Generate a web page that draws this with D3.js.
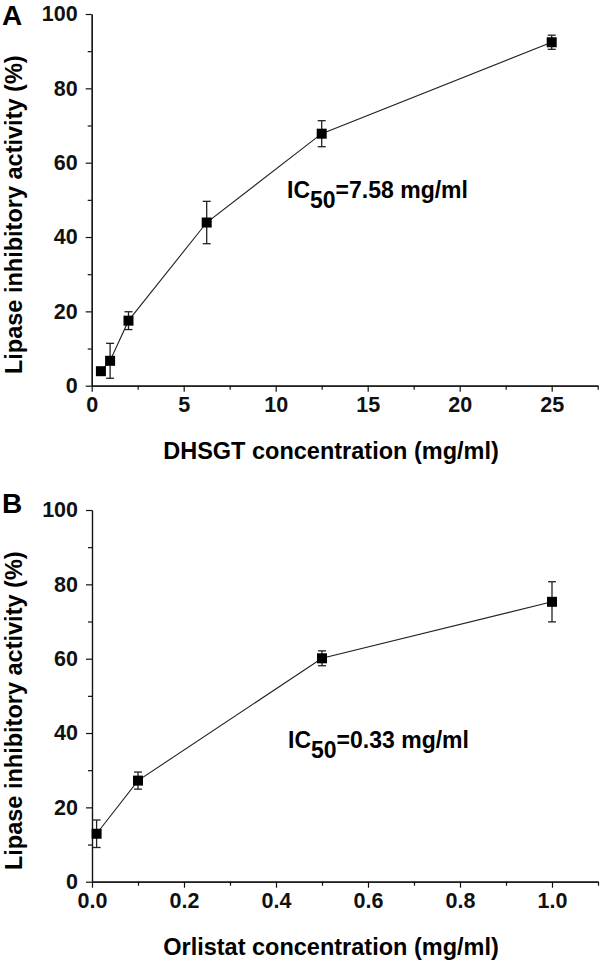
<!DOCTYPE html>
<html>
<head>
<meta charset="utf-8">
<script src="https://cdn.jsdelivr.net/npm/d3@7"></script>
<style>
  body { margin: 0; background: #fff; }
  svg { display: block; font-family: "Liberation Sans", Arial, sans-serif; }
  .axis path, .axis line { stroke: #111; stroke-width: 1.2px; }
  .axis text { font-size: 21.5px; font-weight: bold; fill: #111; font-family: "Liberation Sans", Arial, sans-serif; }
</style>
</head>
<body>
<div id="chart"></div>
<script>
// Panel A: DHSGT
var concA = [0.5, 1, 2, 6.25, 12.5, 25];
var inhibA = [3.9, 6.7, 17.5, 43.9, 67.8, 92.4];
var errA = [0.8, 4.7, 2.4, 5.7, 3.5, 1.9];
var xTicksA = [0, 5, 10, 15, 20, 25];
var xMinorA = [2.5, 7.5, 12.5, 17.5, 22.5, 27.5];

// Panel B: Orlistat
var concB = [0.01, 0.1, 0.5, 1.0];
var inhibB = [12.9, 27.2, 60.1, 75.3];
var errB = [3.7, 2.3, 2.0, 5.4];
var xTicksB = [0, 0.2, 0.4, 0.6, 0.8, 1.0];
var xMinorB = [0.1, 0.3, 0.5, 0.7, 0.9, 1.1];

// shared y ticks
var yTicks = [0, 20, 40, 60, 80, 100];
var yMinor = [10, 30, 50, 70, 90];

var svgWidth = 600;
var svgHeight = 962;

var svg = d3.select("#chart")
  .append("svg")
  .attr("width", svgWidth)
  .attr("height", svgHeight);

function drawPanel(p) {
  var x = d3.scaleLinear().domain(p.xDomain).range([p.left, p.right]);
  var y = d3.scaleLinear().domain([0, 100]).range([p.bottom, p.top]);

  var g = svg.append("g");

  // minor ticks first, then major axis on top
  g.append("g")
    .attr("class", "axis")
    .attr("transform", `translate(0, ${p.bottom})`)
    .call(d3.axisBottom(x).tickValues(p.xMinor).tickSize(4).tickFormat("").tickSizeOuter(0));

  g.append("g")
    .attr("class", "axis")
    .attr("transform", `translate(0, ${p.bottom})`)
    .call(d3.axisBottom(x).tickValues(p.xTicks).tickSize(6).tickPadding(5)
      .tickFormat(p.xFormat).tickSizeOuter(0));

  g.append("g")
    .attr("class", "axis")
    .attr("transform", `translate(${p.left}, 0)`)
    .call(d3.axisLeft(y).tickValues(yMinor).tickSize(4).tickFormat("").tickSizeOuter(0));

  g.append("g")
    .attr("class", "axis")
    .attr("transform", `translate(${p.left}, 0)`)
    .call(d3.axisLeft(y).tickValues(yTicks).tickSize(6).tickPadding(8).tickSizeOuter(0));

  var pts = p.conc.map((c, i) => ({ c: c, v: p.inhib[i], e: p.err[i] }));

  // connecting line
  g.append("path")
    .datum(pts)
    .attr("fill", "none")
    .attr("stroke", "#222")
    .attr("stroke-width", 1.1)
    .attr("d", d3.line().x(d => x(d.c)).y(d => y(d.v)));

  // error bars
  var eb = g.selectAll(".err")
    .data(pts)
    .enter().append("g")
    .attr("stroke", "#222")
    .attr("stroke-width", 1.3);

  eb.append("line")
    .attr("x1", d => x(d.c)).attr("x2", d => x(d.c))
    .attr("y1", d => y(d.v + d.e)).attr("y2", d => y(d.v - d.e));
  eb.append("line")
    .attr("x1", d => x(d.c) - 4).attr("x2", d => x(d.c) + 4)
    .attr("y1", d => y(d.v + d.e)).attr("y2", d => y(d.v + d.e));
  eb.append("line")
    .attr("x1", d => x(d.c) - 4).attr("x2", d => x(d.c) + 4)
    .attr("y1", d => y(d.v - d.e)).attr("y2", d => y(d.v - d.e));

  // square markers
  g.selectAll(".pt")
    .data(pts)
    .enter().append("rect")
    .attr("x", d => x(d.c) - 5)
    .attr("y", d => y(d.v) - 5)
    .attr("width", 10)
    .attr("height", 10)
    .attr("fill", "#000");

  // panel letter
  g.append("text")
    .attr("x", 2)
    .attr("y", p.letterY)
    .attr("font-size", "28px")
    .attr("font-weight", "bold")
    .text(p.letter);

  // y title
  g.append("text")
    .attr("transform", `translate(22, ${p.bottom - 171}) rotate(-90)`)
    .attr("text-anchor", "middle")
    .attr("font-size", "23.5px")
    .attr("font-weight", "bold")
    .text("Lipase inhibitory activity (%)");

  // x title
  g.append("text")
    .attr("x", 331)
    .attr("y", p.bottom + 73)
    .attr("text-anchor", "middle")
    .attr("font-size", "23.5px")
    .attr("font-weight", "bold")
    .text(p.xTitle);

  // IC50 annotation
  var ic = g.append("text")
    .attr("x", p.icX)
    .attr("y", p.icY)
    .attr("font-size", "23px")
    .attr("font-weight", "bold");
  ic.append("tspan").text("IC");
  ic.append("tspan").attr("dy", 10).text("50");
  ic.append("tspan").attr("dy", -10).text("=" + p.icValue + " mg/ml");
}

drawPanel({
  letter: "A", letterY: 25,
  conc: concA, inhib: inhibA, err: errA,
  xDomain: [0, 27.5], xTicks: xTicksA, xMinor: xMinorA,
  xFormat: d3.format("d"),
  left: 91.7, right: 597.7, top: 14, bottom: 385.7,
  xTitle: "DHSGT concentration (mg/ml)",
  icX: 287, icY: 198, icValue: "7.58"
});

drawPanel({
  letter: "B", letterY: 513,
  conc: concB, inhib: inhibB, err: errB,
  xDomain: [0, 1.1], xTicks: xTicksB, xMinor: xMinorB,
  xFormat: d3.format(".1f"),
  left: 92, right: 598, top: 510, bottom: 881.7,
  xTitle: "Orlistat concentration (mg/ml)",
  icX: 288, icY: 748, icValue: "0.33"
});
</script>
</body>
</html>
